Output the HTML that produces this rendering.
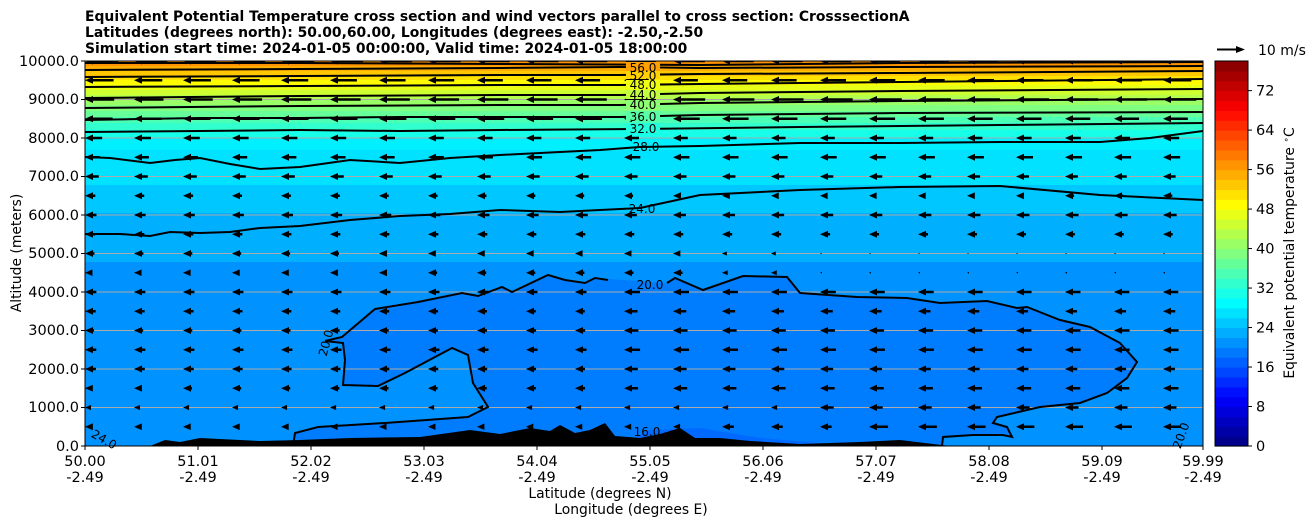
<!DOCTYPE html>
<html><head><meta charset="utf-8"><style>
body{margin:0;background:#fff;}
svg text{font-family:"DejaVu Sans","Liberation Sans",sans-serif;}
</style></head><body>
<svg id="s" width="1308" height="526" viewBox="0 0 1308 526" xmlns="http://www.w3.org/2000/svg">
<text x="85" y="21" font-size="13.9" font-weight="bold">Equivalent Potential Temperature cross section and wind vectors parallel to cross section: CrosssectionA</text>
<text x="85" y="37" font-size="13.9" font-weight="bold">Latitudes (degrees north): 50.00,60.00, Longitudes (degrees east): -2.50,-2.50</text>
<text x="85" y="53" font-size="13.9" font-weight="bold">Simulation start time: 2024-01-05 00:00:00, Valid time: 2024-01-05 18:00:00</text>
<defs><clipPath id="pc"><rect x="85" y="61" width="1118" height="385"/></clipPath></defs>
<g clip-path="url(#pc)">
<rect x="85" y="61" width="1118" height="6" fill="rgb(255,147,0)"/>
<rect x="85" y="66" width="1118" height="6" fill="rgb(255,173,0)"/>
<rect x="85" y="71" width="1118" height="6" fill="rgb(255,199,0)"/>
<rect x="85" y="76" width="1118" height="5" fill="rgb(255,226,0)"/>
<rect x="85" y="80" width="1118" height="6" fill="rgb(255,252,0)"/>
<rect x="85" y="85" width="1118" height="6" fill="rgb(232,255,23)"/>
<rect x="85" y="90" width="1118" height="6" fill="rgb(206,255,49)"/>
<rect x="85" y="95" width="1118" height="6" fill="rgb(180,255,75)"/>
<rect x="85" y="100" width="1118" height="6" fill="rgb(154,255,102)"/>
<rect x="85" y="105" width="1118" height="7" fill="rgb(128,255,128)"/>
<rect x="85" y="111" width="1118" height="7" fill="rgb(102,255,153)"/>
<rect x="85" y="117" width="1118" height="7" fill="rgb(75,255,180)"/>
<rect x="85" y="123" width="1118" height="8" fill="rgb(49,255,206)"/>
<rect x="85" y="130" width="1118" height="9" fill="rgb(23,255,232)"/>
<rect x="85" y="138" width="1118" height="13" fill="rgb(0,240,255)"/>
<rect x="85" y="150" width="1118" height="36" fill="rgb(0,226,255)"/>
<rect x="85" y="185" width="1118" height="29" fill="rgb(0,199,255)"/>
<rect x="85" y="213" width="1118" height="50" fill="rgb(0,176,255)"/>
<rect x="85" y="262" width="1118" height="184" fill="rgb(0,147,255)"/>
<polygon fill="rgb(0,125,255)" points="325,341 342,337 375,309 418,302 462,293 478,296 502,287 512,292 548,275 565,280 585,283 595,278 667,283 675,278 703,290 743,276 787,277 800,293 857,297 907,298 940,303 987,301 1017,308 1027,307 1060,320 1090,327 1120,343 1137,362 1127,378 1107,393 1080,403 1040,407 997,417 993,423 1007,427 1012,437 1003,435 973,435 943,437 942,446 293,446 295,433 318,427 385,423 468,417 488,407 473,383 468,355 452,348 405,373 378,386 343,385 345,360 343,343"/>
<polygon fill="rgb(0,105,255)" points="620,446 650,430 700,428 760,438 850,446"/>
<g stroke="#aaa" stroke-width="1">
<line x1="85" x2="1203" y1="407.5" y2="407.5"/><line x1="85" x2="1203" y1="369" y2="369"/><line x1="85" x2="1203" y1="330.5" y2="330.5"/><line x1="85" x2="1203" y1="292" y2="292"/><line x1="85" x2="1203" y1="253.5" y2="253.5"/><line x1="85" x2="1203" y1="215" y2="215"/><line x1="85" x2="1203" y1="176.5" y2="176.5"/><line x1="85" x2="1203" y1="138" y2="138"/><line x1="85" x2="1203" y1="99.5" y2="99.5"/>
</g>
<g fill="none" stroke="#000" stroke-width="2">
<polyline points="85,63 300,63 500,64 700,65 900,63 1203,62"/>
<polyline points="85,70 300,69 500,68 620,67 700,68 900,67 1203,66"/>
<polyline points="85,77 300,76 500,75 620,75 700,74 900,73 1203,71"/>
<polyline points="85,87 300,86 500,85 620,85 700,84 900,82 1203,79"/>
<polyline points="85,98 300,96 500,95 620,95 700,93 900,91 1203,89"/>
<polyline points="85,108 300,106 500,105 620,105 700,103 900,101 1203,99"/>
<polyline points="85,120 200,118 300,118 400,117 500,117 620,117 700,115 900,113 1203,112"/>
<polyline points="85,132 200,131 300,130 400,131 500,130 640,129 800,127 1000,125 1203,123"/>
<polyline points="85,157 110,158 150,163 175,160 200,158 230,164 260,169 300,167 350,160 400,163 450,158 500,155 560,152 600,150 640,147 700,146 800,143 900,143 1000,142 1100,142 1150,138 1203,131"/>
<polyline points="85,234 120,234 150,236 170,232 200,233 230,232 260,228 300,226 350,220 400,216 450,214 500,210 560,212 620,209 640,208 700,195 800,190 900,187 1000,186 1100,195 1203,200"/>
<polyline points="325,341 342,337 375,309 418,302 462,293 478,296 502,287 512,292 548,275 565,280 585,283 595,278 608,280"/>
<polyline points="667,283 675,278 703,290 743,276 787,277 800,293 857,297 907,298 940,303 987,301 1017,308 1027,307 1060,320 1090,327 1120,343 1137,362 1127,378 1107,393 1080,403 1040,407 997,417 993,423 1007,427 1012,437 1003,435 973,435 943,437 942,446"/>
<polyline points="293,446 295,433 318,427 385,423 468,417 488,407 473,383 468,355 452,348 405,373 378,386 343,385 345,360 343,343 325,341"/>
</g>
<polygon fill="#000" points="150,446 165,440 180,442 200,438 260,441 300,440 350,438 420,437 470,430 500,434 530,428 550,431 560,425 575,433 590,430 605,423 615,436 640,438 660,434 680,428 695,438 720,438 750,441 800,444 860,442 900,440 950,446"/>
<g id="arr"></g>
</g>
<rect x="85" y="61" width="1118" height="385" fill="none" stroke="#000" stroke-width="1"/>
<g>
<rect x="626" y="62" width="34" height="9" fill="rgb(255,160,0)"/><rect x="626" y="71" width="34" height="8" fill="rgb(255,210,0)"/><rect x="626" y="80" width="34" height="9" fill="rgb(240,255,15)"/><rect x="626" y="90" width="34" height="9" fill="rgb(195,255,60)"/><rect x="626" y="100" width="34" height="10" fill="rgb(140,255,115)"/><rect x="626" y="111" width="34" height="10" fill="rgb(90,255,165)"/><rect x="626" y="123" width="34" height="10" fill="rgb(35,255,220)"/>
</g>
<g font-size="12" text-anchor="middle">
<text x="643" y="72">56.0</text><text x="643" y="80">52.0</text><text x="643" y="89">48.0</text><text x="643" y="99">44.0</text><text x="643" y="109">40.0</text><text x="643" y="121">36.0</text><text x="643" y="133">32.0</text><text x="646" y="151">28.0</text><text x="642" y="213">24.0</text><text x="650" y="289">20.0</text>
<text x="0" y="0" transform="translate(330,344) rotate(-75)">20.0</text>
<text x="102" y="443" transform="rotate(30,102,443)">24.0</text>
<text x="647" y="436">16.0</text>
<text x="1185" y="437" transform="rotate(-70,1185,437)">20.0</text>
</g>
<g font-size="14.5" text-anchor="end">
<text x="79" y="451">0.0</text><text x="79" y="412">1000.0</text><text x="79" y="374">2000.0</text><text x="79" y="335">3000.0</text><text x="79" y="297">4000.0</text><text x="79" y="258">5000.0</text><text x="79" y="220">6000.0</text><text x="79" y="181">7000.0</text><text x="79" y="143">8000.0</text><text x="79" y="104">9000.0</text><text x="79" y="66">10000.0</text>
</g>
<g stroke="#000"><line x1="81" x2="85" y1="446" y2="446"/><line x1="81" x2="85" y1="407.5" y2="407.5"/><line x1="81" x2="85" y1="369" y2="369"/><line x1="81" x2="85" y1="330.5" y2="330.5"/><line x1="81" x2="85" y1="292" y2="292"/><line x1="81" x2="85" y1="253.5" y2="253.5"/><line x1="81" x2="85" y1="215" y2="215"/><line x1="81" x2="85" y1="176.5" y2="176.5"/><line x1="81" x2="85" y1="138" y2="138"/><line x1="81" x2="85" y1="99.5" y2="99.5"/><line x1="81" x2="85" y1="61" y2="61"/></g>
<text transform="translate(21,253) rotate(-90)" font-size="13.9" text-anchor="middle">Altitude (meters)</text>
<g id="xt" font-size="14.5" text-anchor="middle"></g>
<text x="600" y="498" font-size="13.9" text-anchor="middle">Latitude (degrees N)</text>
<text x="631" y="514" font-size="13.9" text-anchor="middle">Longitude (degrees E)</text>
<g id="cb"></g>
<rect x="1215" y="61" width="33" height="385" fill="none" stroke="#000"/>
<polygon points="1217,48.5 1236,48.5 1236,46 1245,49.5 1236,53 1236,50.5 1217,50.5" fill="#000"/>
<text x="1258" y="55" font-size="14">10 m/s</text>
<text transform="translate(1294,253) rotate(-90)" font-size="13.9" text-anchor="middle">Equivalent potential temperature <tspan baseline-shift="super" font-size="9">∘</tspan>C</text>
</svg>
<script>
(function(){
function jet(v){function c(x){return Math.round(255*Math.max(0,Math.min(1,x)));}
return "rgb("+c(1.5-Math.abs(4*v-3))+","+c(1.5-Math.abs(4*v-2))+","+c(1.5-Math.abs(4*v-1))+")";}
var cb=document.getElementById("cb"),h="";
var ytop=61,ybot=446,n=39,bh=(ybot-ytop)/n;
for(var i=0;i<n;i++){var y=ybot-(i+1)*bh;h+='<rect x="1215" y="'+y.toFixed(2)+'" width="33" height="'+(bh+0.6).toFixed(2)+'" fill="'+jet((i+0.5)/n)+'"/>';}
for(var t=0;t<=72;t+=8){var y=ybot-t*bh/2;h+='<line x1="1248" x2="1252" y1="'+y+'" y2="'+y+'" stroke="#000"/><text x="1256" y="'+(y+5)+'" font-size="14.5">'+t+'</text>';}
cb.innerHTML=h;
var lbl=["50.00","51.01","52.02","53.03","54.04","55.05","56.06","57.07","58.08","59.09","59.99"];
var xs=[85,198,311,424,537,650,763,876,989,1102,1203];h="";
for(var i=0;i<11;i++){h+='<line x1="'+xs[i]+'" x2="'+xs[i]+'" y1="446" y2="450" stroke="#000"/><text x="'+xs[i]+'" y="466">'+lbl[i]+'</text><text x="'+xs[i]+'" y="482">-2.49</text>';}
document.getElementById("xt").innerHTML=h;
function len(r,c){var L;
if(r>=18)L=29;else if(r==17)L=24;else if(r==16)L=17;else if(r==15)L=15;else if(r==14)L=12;else if(r==13)L=10;else if(r==12)L=12;else if(r==11)L=9;
else if(r>=9){L=c<13?9:(c<15?6:2);}
else if(r>=3){L=8+(c>10?6:2);}
else if(r==2){L=c>14?12:6;}else if(r==1){L=c>15?20:(c>12?12:8);}else L=0;
L*=0.85+0.3*Math.abs(Math.sin(r*7.3+c*3.1));return L;}
h="";
for(var r=1;r<=20;r++){var y=446-19.25*r;for(var c=0;c<=23;c++){var x=85+49*c;var L=len(r,c);if(L<=0)continue;
if(L>=9){h+='<polygon points="'+x+','+y+' '+(x+8)+','+(y-3.5)+' '+(x+8)+','+(y-1.2)+' '+(x+L)+','+(y-1.2)+' '+(x+L)+','+(y+1.2)+' '+(x+8)+','+(y+1.2)+' '+(x+8)+','+(y+3.5)+'"/>';}
else{var s=L/9;h+='<polygon points="'+x+','+y+' '+(x+8*s)+','+(y-3.5*s)+' '+(x+8*s)+','+(y+3.5*s)+'"/>';}}}
document.getElementById("arr").innerHTML=h;
})();
</script>
</body></html>
